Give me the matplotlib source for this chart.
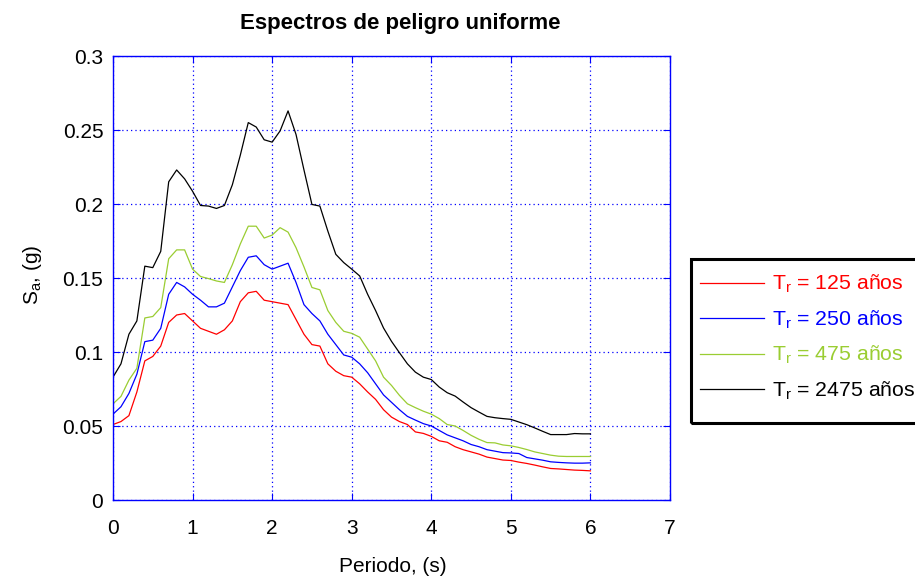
import matplotlib
matplotlib.use("Agg")
import matplotlib.pyplot as plt
from matplotlib.patches import Rectangle

plt.rcParams['font.family'] = ['Liberation Sans', 'DejaVu Sans']
plt.rcParams['mathtext.fontset'] = 'custom'
plt.rcParams['mathtext.rm'] = 'Liberation Sans'
plt.rcParams['mathtext.it'] = 'Liberation Sans'
plt.rcParams['mathtext.bf'] = 'Liberation Sans:bold'

periods = [0.0, 0.1, 0.2, 0.3, 0.4, 0.5, 0.6, 0.7, 0.8, 0.9,
           1.0, 1.1, 1.2, 1.3, 1.4, 1.5, 1.6, 1.7, 1.8, 1.9,
           2.0, 2.1, 2.2, 2.3, 2.4, 2.5, 2.6, 2.7, 2.8, 2.9,
           3.0, 3.1, 3.2, 3.3, 3.4, 3.5, 3.6, 3.7, 3.8, 3.9,
           4.0, 4.1, 4.2, 4.3, 4.4, 4.5, 4.6, 4.7, 4.8, 4.9,
           5.0, 5.1, 5.2, 5.3, 5.4, 5.5, 5.6, 5.7, 5.8, 5.9, 6.0]

sa_125 = [0.051, 0.053, 0.057, 0.073, 0.094, 0.097, 0.104, 0.120, 0.125, 0.126,
          0.121, 0.116, 0.114, 0.112, 0.115, 0.121, 0.134, 0.140, 0.141, 0.135,
          0.134, 0.133, 0.132, 0.122, 0.112, 0.105, 0.104, 0.092, 0.087, 0.084,
          0.083, 0.0785, 0.073, 0.068, 0.061, 0.056, 0.053, 0.051, 0.046, 0.045,
          0.043, 0.040, 0.039, 0.036, 0.034, 0.0325, 0.031, 0.029, 0.028, 0.027,
          0.0267, 0.0256, 0.0247, 0.0236, 0.0224, 0.0213, 0.021, 0.0206, 0.0202, 0.020, 0.0197]

sa_250 = [0.058, 0.063, 0.072, 0.085, 0.107, 0.108, 0.116, 0.139, 0.147, 0.144,
          0.139, 0.135, 0.1305, 0.1305, 0.133, 0.144, 0.155, 0.164, 0.165, 0.159,
          0.156, 0.158, 0.160, 0.147, 0.132, 0.126, 0.121, 0.112, 0.105, 0.098,
          0.0965, 0.092, 0.086, 0.0785, 0.071, 0.066, 0.061, 0.0565, 0.054, 0.0516,
          0.050, 0.047, 0.044, 0.042, 0.040, 0.0375, 0.036, 0.034, 0.033, 0.032,
          0.0318, 0.0314, 0.0287, 0.0278, 0.0269, 0.0258, 0.0254, 0.0251, 0.0249, 0.0249, 0.0251]

sa_475 = [0.065, 0.070, 0.081, 0.089, 0.123, 0.124, 0.130, 0.163, 0.169, 0.169,
          0.156, 0.151, 0.1496, 0.148, 0.147, 0.159, 0.173, 0.185, 0.185, 0.177,
          0.179, 0.184, 0.181, 0.1705, 0.1575, 0.1436, 0.142, 0.128, 0.120, 0.114,
          0.1126, 0.110, 0.102, 0.094, 0.083, 0.0774, 0.0707, 0.065, 0.0624, 0.060,
          0.058, 0.055, 0.051, 0.050, 0.047, 0.0437, 0.041, 0.0388, 0.0386, 0.0372,
          0.0366, 0.0355, 0.0341, 0.0325, 0.0314, 0.0303, 0.0296, 0.0294, 0.0294, 0.0294, 0.0294]

sa_2475 = [0.083, 0.092, 0.112, 0.121, 0.158, 0.157, 0.168, 0.215, 0.223, 0.217,
           0.2086, 0.199, 0.1986, 0.197, 0.199, 0.213, 0.233, 0.255, 0.252, 0.2434,
           0.2418, 0.2494, 0.2629, 0.247, 0.223, 0.1997, 0.1986, 0.1817, 0.166, 0.1604,
           0.156, 0.1514, 0.139, 0.128, 0.1162, 0.1072, 0.0995, 0.092, 0.0864, 0.083,
           0.0814, 0.0763, 0.0725, 0.0702, 0.0662, 0.0624, 0.0594, 0.0565, 0.0556, 0.055,
           0.0545, 0.0527, 0.0509, 0.0487, 0.0464, 0.0442, 0.0442, 0.0442, 0.0449, 0.0447, 0.0447]

series = [sa_125, sa_250, sa_475, sa_2475]
labels = ['$\\mathregular{T_r}$ = 125 años', '$\\mathregular{T_r}$ = 250 años',
          '$\\mathregular{T_r}$ = 475 años', '$\\mathregular{T_r}$ = 2475 años']
colors = ['#ff0000', '#0000ff', '#9acd32', '#000000']

xticks = [0, 1, 2, 3, 4, 5, 6, 7]
yticks = [0, 0.05, 0.1, 0.15, 0.2, 0.25, 0.3]
ytick_labels = ['0', '0.05', '0.1', '0.15', '0.2', '0.25', '0.3']

W, H = 915, 576
fig = plt.figure(figsize=(W / 100, H / 100), dpi=100)
ax = fig.add_axes([113 / W, 1 - 500 / H, (670 - 113) / W, 444 / H])

lines = []
for y, c, lab in zip(series, colors, labels):
    ln, = ax.plot(periods, y, color=c, lw=0.9, label=lab)
    lines.append(ln)

ax.set_xlim(0, 7)
ax.set_ylim(0, 0.3)
ax.set_xticks(xticks)
ax.set_yticks(yticks)
ax.set_yticklabels(ytick_labels)
ax.grid(True, color='#0000ff', linestyle=(0, (1, 2.5)), linewidth=0.9)
for s in ax.spines.values():
    s.set_color('#0000ff')
    s.set_linewidth(1.0)
ax.tick_params(direction='in', length=5, width=0.8, color='#0000ff',
               top=True, right=True, labelsize=15, labelcolor='black')
ax.tick_params(axis='x', pad=14)
ax.tick_params(axis='y', pad=7)

fig.text(400 / W, 1 - 29 / H, 'Espectros de peligro uniforme', ha='center',
         va='baseline', fontsize=16, fontweight='bold')
fig.text(393 / W, 1 - 566 / H, 'Periodo, (s)', ha='center', va='center', fontsize=15)
fig.text(33 / W, 1 - 275 / H, 'S$_\\mathregular{a}$, (g)', ha='center', va='center',
         rotation=90, fontsize=15)

fig.patches.append(Rectangle((691 / W, 1 - 423 / H), 250 / W, (423 - 259) / H,
                             transform=fig.transFigure, fill=False, edgecolor='black',
                             linewidth=2.2, clip_on=False))
leg = fig.legend(handles=lines, labels=labels, loc='upper left',
                 bbox_to_anchor=(700 / W, 1 - 273 / H), frameon=False, fontsize=15.3,
                 handlelength=3.0, handletextpad=0.4, labelspacing=0.62,
                 borderaxespad=0, borderpad=0)
for txt, c in zip(leg.get_texts(), colors):
    txt.set_color(c)

fig.savefig('out.png', dpi=100)
